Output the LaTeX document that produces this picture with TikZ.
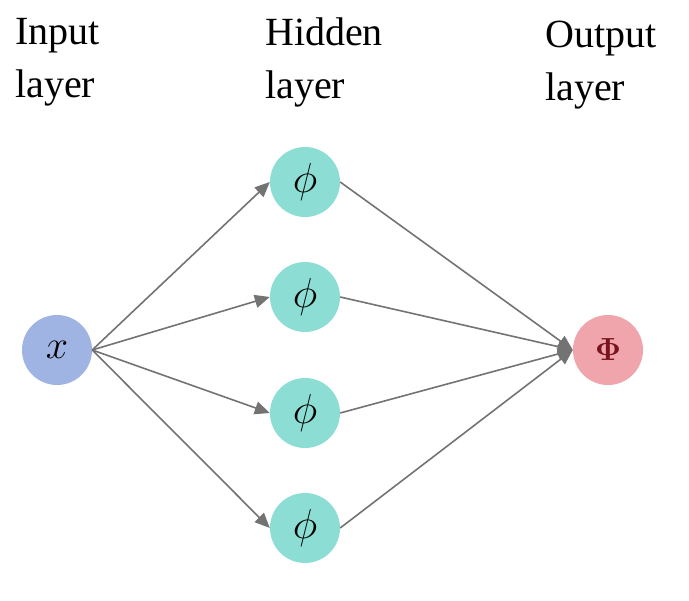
\documentclass[tikz,border=0pt]{standalone}
\usepackage{fix-cm}
\usepackage{amsmath}
\usepackage{fontspec}
\setmainfont{Liberation Serif}
\usetikzlibrary{positioning, arrows.meta}
\definecolor{inblue}{RGB}{160,180,228}
\definecolor{hidteal}{RGB}{140,222,212}
\definecolor{outpink}{RGB}{240,164,172}
\definecolor{phired}{RGB}{120,20,30}
\begin{document}
\begin{tikzpicture}[x=1pt, y=-1pt,
    neuron/.style={circle, minimum size=70pt, inner sep=0pt, draw=none},
    lbl/.style={align=left, anchor=west, inner sep=0pt, font=\fontsize{40}{53}\selectfont},
    conn/.style={-{Triangle[length=15pt,width=13pt]}, draw=gray!90!black, line width=1.6pt}]
    \useasboundingbox (0,0) rectangle (689,601);
    % Define the nodes
    \node[neuron, fill=inblue] (x) at (57,350) {\fontsize{40}{40}\selectfont$x$};
    \foreach \i/\y in {1/182, 2/297, 3/413, 4/528}
        \node[neuron, fill=hidteal] (h\i) at (305,\y) {\fontsize{42}{42}\selectfont$\phi$};
    \node[neuron, fill=outpink] (out) at (608,350) {\fontsize{32}{32}\selectfont\color{phired}$\boldsymbol{\Phi}$};
    % Layer labels
    \node[lbl] (lin) at (15,62) {Input\\ layer};
    \node[lbl] (lhid) at (265,62) {Hidden\\ layer};
    \node[lbl] (lout) at (545,65) {Output\\ layer};
    % Define the connections
    \foreach \i in {1,...,4} {
        \draw[conn] (x.east) -- (h\i.west);
        \draw[conn] (h\i.east) -- (out.west);
    }
\end{tikzpicture}
\end{document}
